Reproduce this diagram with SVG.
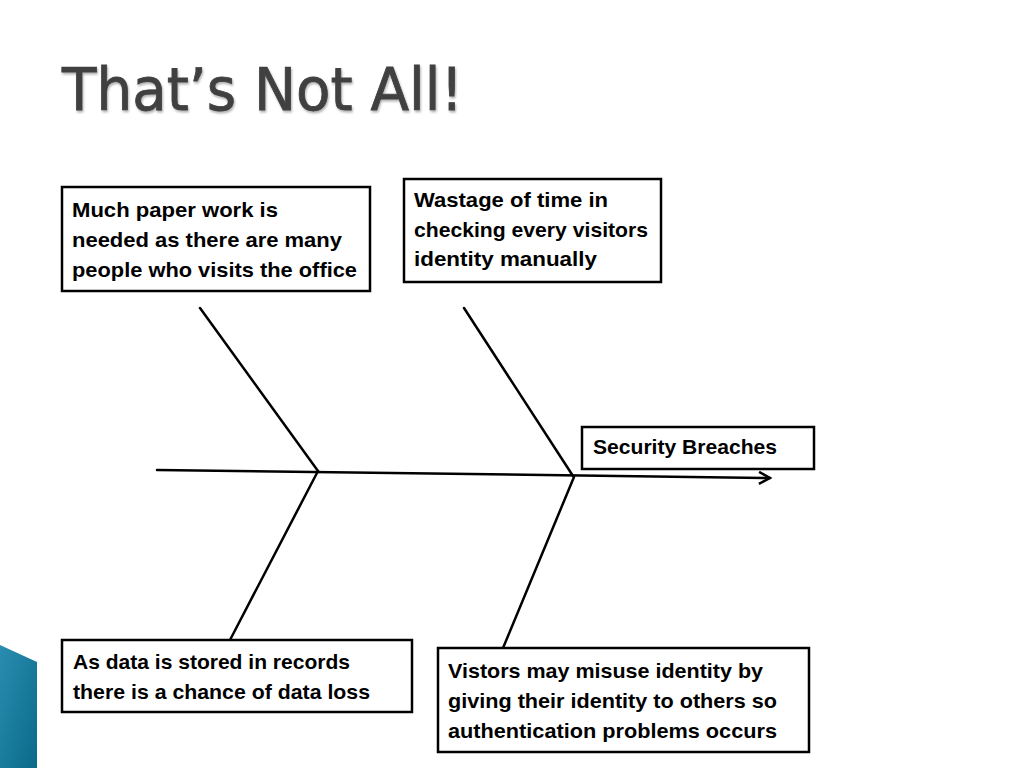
<svg xmlns="http://www.w3.org/2000/svg" width="1024" height="768" viewBox="0 0 1024 768">
<defs>
<style>
.box{fill:#fff;stroke:#000;stroke-width:2.5}
.t{font-family:"Liberation Sans",Arial,sans-serif;font-weight:bold;font-size:21px;fill:#000}
.bone{stroke:#000;stroke-width:2.5;fill:none;stroke-linecap:round}
</style>
<linearGradient id="teal" x1="0" y1="0" x2="1" y2="1">
<stop offset="0" stop-color="#2a8db0"/>
<stop offset="1" stop-color="#0a6a8a"/>
</linearGradient>
<marker id="arr" viewBox="0 0 14 14" refX="12" refY="7" markerWidth="14" markerHeight="14" markerUnits="userSpaceOnUse" orient="auto">
<path d="M1,1 L12,7 L1,13" fill="none" stroke="#000" stroke-width="2.5"/>
</marker>
<filter id="sh" x="-5%" y="-5%" width="110%" height="120%">
<feDropShadow dx="1" dy="2" stdDeviation="1" flood-color="#000" flood-opacity="0.3"/>
</filter>
</defs>
<rect width="1024" height="768" fill="#fff"/>
<polygon points="0,645 37,662 37,768 0,768" fill="url(#teal)"/>
<text x="62" y="110" font-family="DejaVu Sans,Verdana,sans-serif" font-size="58" fill="#404040" stroke="#404040" stroke-width="0.8" textLength="401" lengthAdjust="spacingAndGlyphs" filter="url(#sh)">That’s Not All!</text>
<g id="connectors">
<line class="bone" x1="157" y1="470" x2="770" y2="478" marker-end="url(#arr)"/>
<line class="bone" x1="200" y1="308" x2="318" y2="471"/>
<line class="bone" x1="464" y1="308" x2="573" y2="476"/>
<line class="bone" x1="318" y1="471" x2="230" y2="640"/>
<line class="bone" x1="574" y1="477" x2="503" y2="648"/>
</g>
<g id="node-paperwork">
<rect class="box" x="62" y="187" width="308" height="104"/>
<text class="t" x="72" y="217" textLength="206" lengthAdjust="spacingAndGlyphs">Much paper work is</text>
<text class="t" x="72" y="247" textLength="270" lengthAdjust="spacingAndGlyphs">needed as there are many</text>
<text class="t" x="72" y="277" textLength="285" lengthAdjust="spacingAndGlyphs">people who visits the office</text>
</g>
<g id="node-wastage">
<rect class="box" x="404" y="179" width="257" height="103"/>
<text class="t" x="414" y="207" textLength="194" lengthAdjust="spacingAndGlyphs">Wastage of time in</text>
<text class="t" x="414" y="237" textLength="234" lengthAdjust="spacingAndGlyphs">checking every visitors</text>
<text class="t" x="414" y="266" textLength="183" lengthAdjust="spacingAndGlyphs">identity manually</text>
</g>
<g id="node-security">
<rect class="box" x="582" y="427" width="232" height="42"/>
<text class="t" x="593" y="454" textLength="184" lengthAdjust="spacingAndGlyphs">Security Breaches</text>
</g>
<g id="node-dataloss">
<rect class="box" x="62" y="640" width="350" height="72"/>
<text class="t" x="73" y="669" textLength="277" lengthAdjust="spacingAndGlyphs">As data is stored in records</text>
<text class="t" x="73" y="699" textLength="297" lengthAdjust="spacingAndGlyphs">there is a chance of data loss</text>
</g>
<g id="node-misuse">
<rect class="box" x="438" y="648" width="371" height="104"/>
<text class="t" x="448" y="678" textLength="315" lengthAdjust="spacingAndGlyphs">Vistors may misuse identity by</text>
<text class="t" x="448" y="708" textLength="329" lengthAdjust="spacingAndGlyphs">giving their identity to others so</text>
<text class="t" x="448" y="738" textLength="329" lengthAdjust="spacingAndGlyphs">authentication problems occurs</text>
</g>
</svg>
